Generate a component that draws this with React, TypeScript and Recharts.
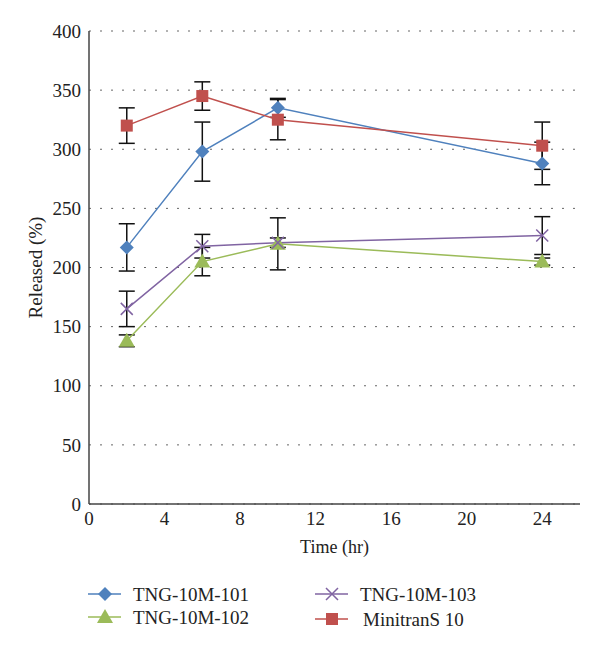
import { LineChart, Line, XAxis, YAxis, CartesianGrid, ErrorBar } from 'recharts';

// time points (hr)
const hours = [2, 6, 10, 24];

// released (%) per formulation, with error bar half-widths
const tng101 = [217, 298, 335, 288];
const tng101Err = [20, 25, 8, 18];
const tng102 = [138, 205, 220, 205];
const tng102Err = [5, 12, 22, 3];
const tng103 = [165, 218, 221, 227];
const tng103Err = [15, 10, 4, 16];
const minitrans = [320, 345, 325, 303];
const minitransErr = [15, 12, 17, 20];

const xTicks = [0, 4, 8, 12, 16, 20, 24];
const yTicks = [0, 50, 100, 150, 200, 250, 300, 350, 400];

const data = hours.map((h, i) => ({
  h,
  a: tng101[i],
  aErr: tng101Err[i],
  b: tng102[i],
  bErr: tng102Err[i],
  c: tng103[i],
  cErr: tng103Err[i],
  d: minitrans[i],
  dErr: minitransErr[i],
}));

const BLUE = '#4F81BD';
const GREEN = '#9BBB59';
const PURPLE = '#8064A2';
const RED = '#C0504D';
const FONT = '"Liberation Serif", "Times New Roman", serif';

// marker shapes
const Marker = ({ kind, cx, cy, color }: { kind: string; cx: number; cy: number; color: string }) => {
  if (kind === 'diamond')
    return <path d={`M${cx},${cy - 7}L${cx + 7},${cy}L${cx},${cy + 7}L${cx - 7},${cy}Z`} fill={color} />;
  if (kind === 'triangle')
    return <path d={`M${cx},${cy - 8}L${cx + 8},${cy + 6}L${cx - 8},${cy + 6}Z`} fill={color} />;
  if (kind === 'cross')
    return (
      <path
        d={`M${cx - 6},${cy - 6}L${cx + 6},${cy + 6}M${cx - 6},${cy + 6}L${cx + 6},${cy - 6}`}
        stroke={color}
        strokeWidth={1.5}
        fill="none"
      />
    );
  return <rect x={cx - 6} y={cy - 6} width={12} height={12} fill={color} />;
};

const dotFor = (kind: string, color: string) => (p: any) =>
  <Marker key={`${kind}-${p.index}`} kind={kind} cx={p.cx} cy={p.cy} color={color} />;

// rotated y axis title, centred on the axis
const YTitle = (p: any) => {
  const vb = p.viewBox || {};
  const x = vb.x + 6;
  const y = vb.y + vb.height / 2;
  return (
    <text
      x={x}
      y={y}
      transform={`rotate(-90 ${x} ${y})`}
      textAnchor="middle"
      dominantBaseline="central"
      fontSize={19}
      fontFamily={FONT}
      fill="#222"
    >
      Released (%)
    </text>
  );
};

const legendItems = [
  { name: 'TNG-10M-101', kind: 'diamond', color: BLUE, x: 88, y: 594, tx: 133 },
  { name: 'TNG-10M-102', kind: 'triangle', color: GREEN, x: 88, y: 617, tx: 133 },
  { name: 'TNG-10M-103', kind: 'cross', color: PURPLE, x: 315, y: 594, tx: 360 },
  { name: 'MinitranS 10', kind: 'square', color: RED, x: 315, y: 619, tx: 363 },
];

export default function App() {
  return (
    <div style={{ position: 'absolute', left: 0, top: 0, width: 600, height: 653, fontFamily: FONT }}>
      <style>{`.recharts-wrapper text, .recharts-text { font-family: ${FONT}; }`}</style>
      <LineChart
        width={600}
        height={653}
        data={data}
        margin={{ top: 31, right: 20, left: 29, bottom: 119 }}
      >
        <CartesianGrid vertical={false} stroke="#666" strokeDasharray="2 9" />
        <XAxis
          dataKey="h"
          type="number"
          domain={[0, 26]}
          ticks={xTicks}
          tickLine={false}
          stroke="#444"
          strokeWidth={1.5}
          height={30}
          tick={{ fill: '#222', fontSize: 19 }}
          label={{ value: 'Time (hr)', position: 'insideBottom', offset: -19, fill: '#222', fontSize: 18 }}
        />
        <YAxis
          domain={[0, 400]}
          ticks={yTicks}
          tickLine={false}
          stroke="#444"
          strokeWidth={1.5}
          width={60}
          tick={{ fill: '#222', fontSize: 19 }}
          label={{ content: YTitle }}
        />
        <Line dataKey="a" stroke={BLUE} strokeWidth={1.5} dot={dotFor('diamond', BLUE)} isAnimationActive={false}>
          <ErrorBar dataKey="aErr" width={8} stroke="#111" strokeWidth={1.5} />
        </Line>
        <Line dataKey="b" stroke={GREEN} strokeWidth={1.5} dot={dotFor('triangle', GREEN)} isAnimationActive={false}>
          <ErrorBar dataKey="bErr" width={8} stroke="#111" strokeWidth={1.5} />
        </Line>
        <Line dataKey="c" stroke={PURPLE} strokeWidth={1.5} dot={dotFor('cross', PURPLE)} isAnimationActive={false}>
          <ErrorBar dataKey="cErr" width={8} stroke="#111" strokeWidth={1.5} />
        </Line>
        <Line dataKey="d" stroke={RED} strokeWidth={1.5} dot={dotFor('square', RED)} isAnimationActive={false}>
          <ErrorBar dataKey="dErr" width={8} stroke="#111" strokeWidth={1.5} />
        </Line>
      </LineChart>

      {/* legend */}
      <svg width={600} height={60} style={{ position: 'absolute', left: 0, top: 575 }}>
        {legendItems.map((it) => (
          <g key={it.name}>
            <line x1={it.x} x2={it.x + 33} y1={it.y - 575} y2={it.y - 575} stroke={it.color} strokeWidth={1.5} />
            <Marker kind={it.kind} cx={it.x + 17} cy={it.y - 575} color={it.color} />
            <text x={it.tx} y={it.y - 575} dy="0.35em" fontSize={19} fontFamily={FONT} fill="#222">
              {it.name}
            </text>
          </g>
        ))}
      </svg>
    </div>
  );
}
